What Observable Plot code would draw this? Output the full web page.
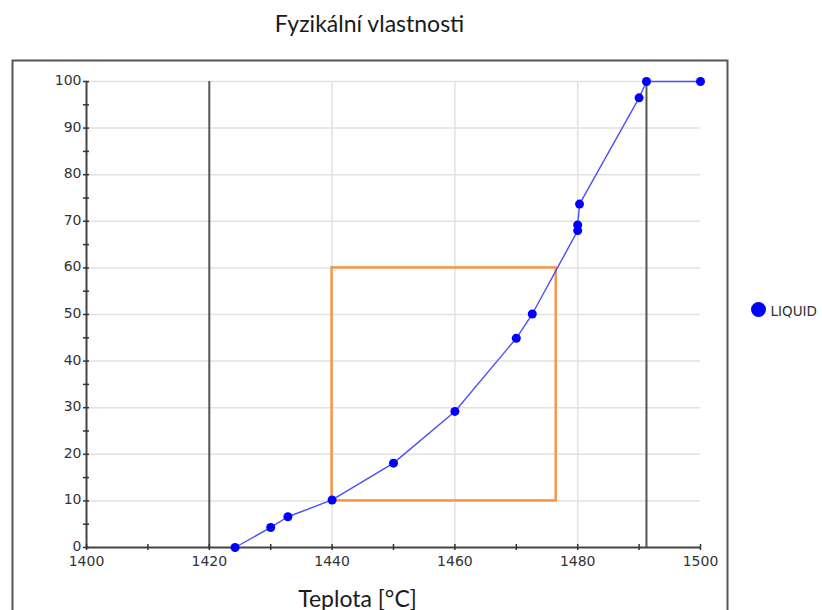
<!DOCTYPE html>
<html>
<head>
<meta charset="utf-8">
<script src="https://cdn.jsdelivr.net/npm/d3@7"></script>
<script src="https://cdn.jsdelivr.net/npm/@observablehq/plot@0.6"></script>
<style>
  html, body { margin: 0; padding: 0; background: white; }
  #title {
    width: 715px; margin-left: 12px; height: 48px;
    box-sizing: border-box; padding-top: 11px;
    text-align: center; font-family: Lato, "Open Sans", sans-serif;
    font-size: 23px; line-height: 24px; color: #1a1a1a;
  }
  #chart svg { display: block; }
</style>
</head>
<body>
<div id="title">Fyzikální vlastnosti</div>
<div id="chart"></div>
<script>
// Liquid fraction (%) against temperature (°C)
const temps  = [1424.2, 1430.0, 1432.8, 1440.0, 1450.0, 1460.0, 1470.0, 1472.6, 1480.0, 1480.0, 1480.3, 1490.0, 1491.2, 1500.0];
const liquid = [0.0,    4.3,    6.6,    10.2,   18.1,   29.2,   44.9,   50.1,   68.0,   69.2,   73.7,   96.5,   100.0,  100.0];
const series = ["LIQUID"];

// Axis ticks
const xLabels = [1400, 1420, 1440, 1460, 1480, 1500];
const xMinor  = [1400, 1410, 1420, 1430, 1440, 1450, 1460, 1470, 1480, 1490, 1500];
const yLabels = [0, 10, 20, 30, 40, 50, 60, 70, 80, 90, 100];
const yMinor  = d3.range(0, 101, 5);
const xGrid   = [1440, 1460, 1480];
const yGrid   = [10, 20, 30, 40, 50, 60, 70, 80, 90, 100];

// Solidus / liquidus markers and the highlighted window
const boundaries = [1420, 1491.2];
const windowT = [1440, 1476.5];
const windowV = [10, 60];

const points = temps.map((t, i) => ({t, v: liquid[i]}));
const windowRect = [{x1: windowT[0], x2: windowT[1], y1: windowV[0], y2: windowV[1]}];

const tickFont = "DejaVu Sans, Verdana, sans-serif";
const plain = d => String(d);

const chart = Plot.plot({
  width: 822,
  height: 562,
  marginLeft: 86,
  marginRight: 122,
  marginTop: 33,
  marginBottom: 63,
  x: {domain: [1400, 1500]},
  y: {domain: [0, 100]},
  style: {fontFamily: tickFont, fontSize: "14px", color: "#333", background: "white"},
  marks: [
    Plot.frame({stroke: "#555", strokeWidth: 2, insetLeft: -74, insetRight: -27, insetTop: -21, insetBottom: -90}),
    Plot.gridY(yGrid, {stroke: "#e2e2e2", strokeOpacity: 1, strokeWidth: 1.5}),
    Plot.gridX(xGrid, {stroke: "#e2e2e2", strokeOpacity: 1, strokeWidth: 1.5}),
    Plot.ruleX(boundaries, {y1: 0, y2: 100, stroke: "#555", strokeWidth: 2}),
    Plot.ruleY([0], {x1: 1400, x2: 1500, stroke: "#444", strokeWidth: 2}),
    Plot.ruleX([1400], {y1: 0, y2: 100, stroke: "#444", strokeWidth: 2}),
    Plot.axisX(xMinor, {tickSize: 6, dy: -3, fill: "none", stroke: "#333", strokeWidth: 1.5, label: null}),
    Plot.axisX(xLabels, {tickSize: 0, tickPadding: 9, fill: "#333", fontSize: 14, tickFormat: plain, label: null}),
    Plot.axisY(yMinor, {tickSize: 6, dx: 3, fill: "none", stroke: "#333", strokeWidth: 1.5, label: null}),
    Plot.axisY(yLabels, {tickSize: 0, tickPadding: 5, dy: -1, fill: "#333", fontSize: 14, tickFormat: plain, label: null}),
    Plot.rect(windowRect, {x1: "x1", x2: "x2", y1: "y1", y2: "y2", fill: "none", stroke: "#f79646", strokeWidth: 2.5}),
    Plot.line(points, {x: "t", y: "v", stroke: "#4d4dff", strokeWidth: 1.4}),
    Plot.dot(points, {x: "t", y: "v", r: 4.5, fill: "#0000ff", stroke: "none"}),
    // legend
    Plot.dot(series, {frameAnchor: "right", dx: 58, dy: -5, r: 7.5, fill: "#0000ff"}),
    Plot.text(series, {text: d => d, frameAnchor: "right", dx: 70, dy: -3, textAnchor: "start", fontSize: 13.5, fill: "#333"}),
    // x axis title
    Plot.text(["Teplota [°C]"], {text: d => d, frameAnchor: "bottom", dx: -36, dy: 59, fontSize: 23, fontFamily: "Lato, 'Open Sans', sans-serif", fill: "#1a1a1a"})
  ]
});
document.getElementById("chart").append(chart);
</script>
</body>
</html>
